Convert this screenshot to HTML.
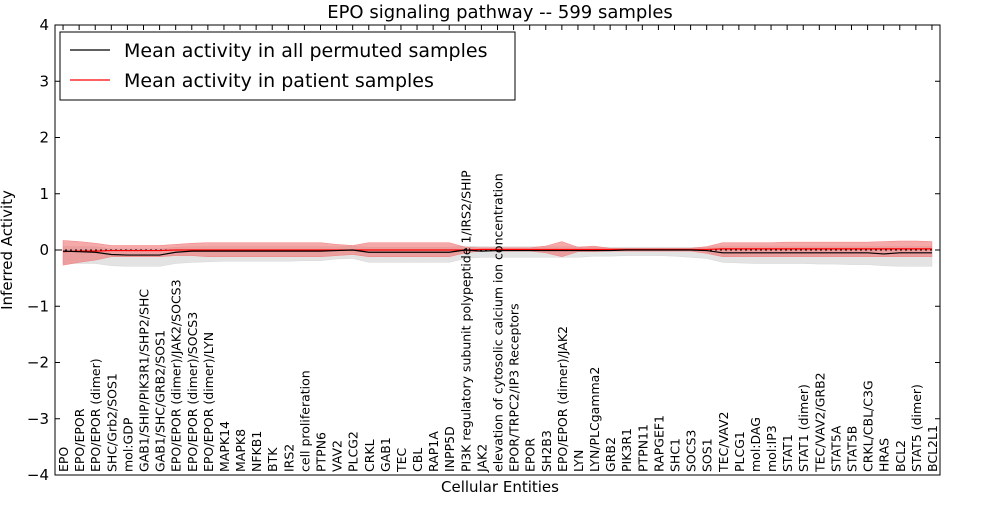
<!DOCTYPE html>
<html><head><meta charset="utf-8"><style>
body{margin:0;background:#fff;}
svg text{font-family:"DejaVu Sans","Liberation Sans",sans-serif;fill:#000;}
</style></head><body>
<svg id="chart" width="1000" height="500" xmlns="http://www.w3.org/2000/svg">
<rect x="0" y="0" width="1000" height="500" fill="#fff"/>
<g id="bands"></g><g id="lines"></g><g id="axes"></g>
</svg>
<script>
const categories=["EPO","EPO/EPOR","EPO/EPOR (dimer)","SHC/Grb2/SOS1","mol:GDP","GAB1/SHIP/PIK3R1/SHP2/SHC","GAB1/SHC/GRB2/SOS1","EPO/EPOR (dimer)/JAK2/SOCS3","EPO/EPOR (dimer)/SOCS3","EPO/EPOR (dimer)/LYN","MAPK14","MAPK8","NFKB1","BTK","IRS2","cell proliferation","PTPN6","VAV2","PLCG2","CRKL","GAB1","TEC","CBL","RAP1A","INPP5D","PI3K regulatory subunit polypeptide 1/IRS2/SHIP","JAK2","elevation of cytosolic calcium ion concentration","EPOR/TRPC2/IP3 Receptors","EPOR","SH2B3","EPO/EPOR (dimer)/JAK2","LYN","LYN/PLCgamma2","GRB2","PIK3R1","PTPN11","RAPGEF1","SHC1","SOCS3","SOS1","TEC/VAV2","PLCG1","mol:DAG","mol:IP3","STAT1","STAT1 (dimer)","TEC/VAV2/GRB2","STAT5A","STAT5B","CRKL/CBL/C3G","HRAS","BCL2","STAT5 (dimer)","BCL2L1"];
const permMean=[-0.02,-0.03,-0.04,-0.08,-0.09,-0.09,-0.09,-0.04,-0.02,-0.02,-0.02,-0.02,-0.02,-0.02,-0.02,-0.02,-0.02,-0.01,0.0,-0.04,-0.04,-0.04,-0.04,-0.04,-0.04,0.0,-0.02,-0.01,-0.01,-0.01,-0.01,-0.01,-0.01,-0.01,-0.01,0.0,0.0,0.0,0.0,0.0,-0.01,-0.05,-0.05,-0.05,-0.05,-0.05,-0.05,-0.05,-0.05,-0.05,-0.05,-0.07,-0.05,-0.05,-0.05];
const permLow=[-0.24,-0.24,-0.24,-0.28,-0.29,-0.29,-0.29,-0.24,-0.22,-0.21,-0.2,-0.2,-0.2,-0.2,-0.2,-0.19,-0.19,-0.16,-0.15,-0.22,-0.22,-0.22,-0.22,-0.22,-0.22,-0.15,-0.13,-0.13,-0.13,-0.13,-0.13,-0.13,-0.13,-0.11,-0.11,-0.1,-0.1,-0.1,-0.11,-0.13,-0.15,-0.22,-0.23,-0.24,-0.24,-0.24,-0.24,-0.25,-0.25,-0.26,-0.26,-0.28,-0.29,-0.29,-0.29];
const permHigh=[0.06,0.06,0.06,0.02,0.02,0.02,0.02,0.05,0.06,0.06,0.06,0.06,0.06,0.06,0.06,0.06,0.06,0.06,0.07,0.05,0.05,0.05,0.05,0.05,0.05,0.07,0.06,0.06,0.06,0.06,0.06,0.06,0.06,0.05,0.05,0.05,0.05,0.05,0.05,0.05,0.05,0.06,0.06,0.06,0.06,0.06,0.06,0.06,0.06,0.06,0.06,0.06,0.06,0.06,0.06];
const patMean=[-0.03,-0.02,-0.02,-0.01,-0.01,-0.01,-0.01,0.0,0.0,0.0,0.0,0.0,0.0,0.0,0.0,0.0,0.0,0.0,0.0,0.0,0.0,0.0,0.0,0.0,0.0,0.0,0.01,0.01,0.01,0.01,0.01,0.01,0.01,0.01,0.01,0.01,0.01,0.01,0.01,0.01,0.01,0.02,0.02,0.02,0.02,0.02,0.02,0.02,0.02,0.02,0.02,0.02,0.02,0.02,0.02];
const patLow=[-0.27,-0.22,-0.18,-0.12,-0.12,-0.12,-0.12,-0.1,-0.1,-0.12,-0.12,-0.12,-0.12,-0.12,-0.12,-0.12,-0.12,-0.1,-0.08,-0.12,-0.12,-0.12,-0.12,-0.12,-0.12,-0.05,-0.02,-0.02,-0.02,-0.02,-0.05,-0.12,-0.03,-0.03,-0.02,-0.02,-0.02,-0.02,-0.02,-0.02,-0.06,-0.12,-0.12,-0.12,-0.12,-0.12,-0.12,-0.12,-0.12,-0.12,-0.12,-0.12,-0.12,-0.12,-0.12];
const patHigh=[0.17,0.15,0.12,0.08,0.08,0.08,0.08,0.1,0.12,0.13,0.13,0.13,0.13,0.13,0.13,0.13,0.13,0.1,0.08,0.13,0.13,0.13,0.13,0.13,0.13,0.05,0.04,0.04,0.04,0.04,0.07,0.15,0.05,0.07,0.03,0.03,0.03,0.03,0.03,0.03,0.06,0.13,0.13,0.13,0.13,0.14,0.14,0.14,0.14,0.14,0.14,0.15,0.16,0.16,0.15];
const yTicks=[4,3,2,1,0,-1,-2,-3,-4];
const yTickLabels=["4","3","2","1","0","\u22121","\u22122","\u22123","\u22124"];

const L=55,R=940,T=25,B=475,NS="http://www.w3.org/2000/svg";
const n=categories.length;
const xs=i=>L+(i+0.5)*(R-L)/n;
const ys=v=>T+(4-v)*(B-T)/8;
function mk(tag,attrs,parent){const e=document.createElementNS(NS,tag);for(const k in attrs)e.setAttribute(k,attrs[k]);parent.appendChild(e);return e;}
const bands=document.getElementById('bands'),lines=document.getElementById('lines'),axes=document.getElementById('axes'),svg=document.getElementById('chart');
function bandPath(lo,hi){let d='';for(let i=0;i<n;i++)d+=(i?'L':'M')+xs(i)+','+ys(hi[i]);for(let i=n-1;i>=0;i--)d+='L'+xs(i)+','+ys(lo[i]);return d+'Z';}
function linePath(a){let d='';for(let i=0;i<n;i++)d+=(i?'L':'M')+xs(i)+','+ys(a[i]);return d;}
let p=mk('path',{d:bandPath(permLow,permHigh),fill:'#e3e3e3',stroke:'#d8d8d8','stroke-width':0.5},bands);


p=mk('path',{d:bandPath(patLow,patHigh),fill:'#f07070','fill-opacity':0.6,stroke:'#f08080','stroke-width':0.5},bands);


p=mk('line',{x1:L,x2:R,y1:ys(0),y2:ys(0),stroke:'#000','stroke-dasharray':'2,3','stroke-width':1},lines);


p=mk('path',{d:linePath(patMean),fill:'none',stroke:'#ff0000','stroke-width':1.2},lines);


p=mk('path',{d:linePath(permMean),fill:'none',stroke:'#000','stroke-width':1.2},lines);


p=mk('rect',{x:L,y:T,width:R-L,height:B-T,fill:'none',stroke:'#000','stroke-width':1},axes);


yTicks.forEach((v,k)=>{const y=ys(v);
 mk('line',{x1:L,x2:L+5,y1:y,y2:y,stroke:'#000'},axes);mk('line',{x1:R,x2:R-5,y1:y,y2:y,stroke:'#000'},axes);
 const t=mk('text',{x:L-6,y:y+5,'text-anchor':'end','font-size':15},axes);t.textContent=yTickLabels[k];
 
 });
categories.forEach((c,i)=>{const x=xs(i);
 mk('line',{x1:x,x2:x,y1:T,y2:T+5,stroke:'#000'},axes);
 const t=mk('text',{x:0,y:0,transform:`translate(${x+5},${B-3}) rotate(-90)`,'font-size':12.5},axes);t.textContent=c;
 
 });
let t=mk('text',{x:500,y:18,'text-anchor':'middle','font-size':18},svg);t.textContent='EPO signaling pathway -- 599 samples';


t=mk('text',{x:500,y:492,'text-anchor':'middle','font-size':15},svg);t.textContent='Cellular Entities';


t=mk('text',{x:0,y:0,transform:'translate(12,250) rotate(-90)','text-anchor':'middle','font-size':15},svg);t.textContent='Inferred Activity';


const lg=mk('g',{},svg);


mk('rect',{x:60,y:32,width:455,height:68,fill:'#fff',stroke:'#000'},lg);
mk('line',{x1:70,x2:110,y1:50,y2:50,stroke:'#000','stroke-width':1.2},lg);
mk('line',{x1:70,x2:110,y1:80,y2:80,stroke:'#ff0000','stroke-width':1.2},lg);
t=mk('text',{x:124,y:57,'font-size':19},lg);t.textContent='Mean activity in all permuted samples';


t=mk('text',{x:124,y:87,'font-size':19},lg);t.textContent='Mean activity in patient samples';


</script>
</body></html>
